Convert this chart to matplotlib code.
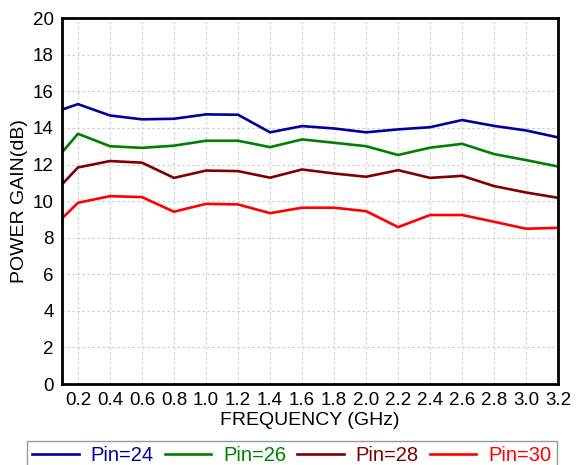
import matplotlib
matplotlib.use('Agg')
import matplotlib.pyplot as plt

# frequency points (GHz)
freq = [0.1, 0.2, 0.4, 0.6, 0.8, 1.0, 1.2, 1.4, 1.6, 1.8, 2.0, 2.2, 2.4, 2.6, 2.8, 3.0, 3.2]

# power gain (dB) for each input power
gain_pin24 = [15.0, 15.3, 14.68, 14.47, 14.5, 14.74, 14.72, 13.76, 14.1, 13.97, 13.76, 13.92, 14.04, 14.43, 14.11, 13.86, 13.48]
gain_pin26 = [12.66, 13.68, 13.0, 12.91, 13.03, 13.3, 13.3, 12.95, 13.37, 13.19, 13.0, 12.52, 12.92, 13.13, 12.57, 12.24, 11.89]
gain_pin28 = [10.91, 11.84, 12.19, 12.1, 11.27, 11.67, 11.64, 11.28, 11.73, 11.51, 11.33, 11.69, 11.27, 11.38, 10.82, 10.47, 10.18]
gain_pin30 = [9.05, 9.91, 10.27, 10.22, 9.42, 9.85, 9.82, 9.34, 9.64, 9.64, 9.45, 8.58, 9.24, 9.24, 8.87, 8.49, 8.54]

labels = ['Pin=24', 'Pin=26', 'Pin=28', 'Pin=30']
colors = ['#0000a0', '#008000', '#800000', '#ff0000']

xticks = [0.2, 0.4, 0.6, 0.8, 1.0, 1.2, 1.4, 1.6, 1.8, 2.0, 2.2, 2.4, 2.6, 2.8, 3.0, 3.2]
yticks = list(range(0, 21, 2))

plt.rcParams['font.family'] = ['Liberation Sans', 'DejaVu Sans']

fig = plt.figure(figsize=(5.79, 4.65), dpi=100)
ax = fig.add_axes([0.107, 0.174, 0.857, 0.787])

series = [gain_pin24, gain_pin26, gain_pin28, gain_pin30]
for vals, lab, col in zip(series, labels, colors):
    ax.plot(freq, vals, color=col, linewidth=1.9, label=lab)

ax.set_xlim(0.1, 3.2)
ax.set_ylim(0, 20)
ax.set_xticks(xticks)
ax.set_xticklabels([f'{v:.1f}' for v in xticks])
ax.set_yticks(yticks)
ax.tick_params(axis='both', length=0, labelsize=13.5)
ax.tick_params(axis='x', pad=6)
ax.tick_params(axis='y', pad=6)
ax.grid(True, color='#c8c8c8', linestyle=(0, (2, 2.5)), linewidth=0.8)

for sp in ax.spines.values():
    sp.set_linewidth(2)
    sp.set_color('black')

ax.set_xlabel('FREQUENCY (GHz)', fontsize=14, labelpad=2)
ax.set_ylabel('POWER GAIN(dB)', fontsize=14, labelpad=3)

# legend box sits at the bottom edge, partly outside the figure like the original
leg = fig.legend(loc='upper left', bbox_to_anchor=(0.047, 0.051),
                 bbox_transform=fig.transFigure, ncol=4, fontsize=14.5,
                 labelcolor='linecolor', fancybox=False, edgecolor='#808080',
                 handlelength=2.3, handletextpad=0.6, columnspacing=0.55,
                 borderpad=0.25, borderaxespad=0)
leg.get_frame().set_linewidth(1)

fig.savefig('out.png', dpi=100)
